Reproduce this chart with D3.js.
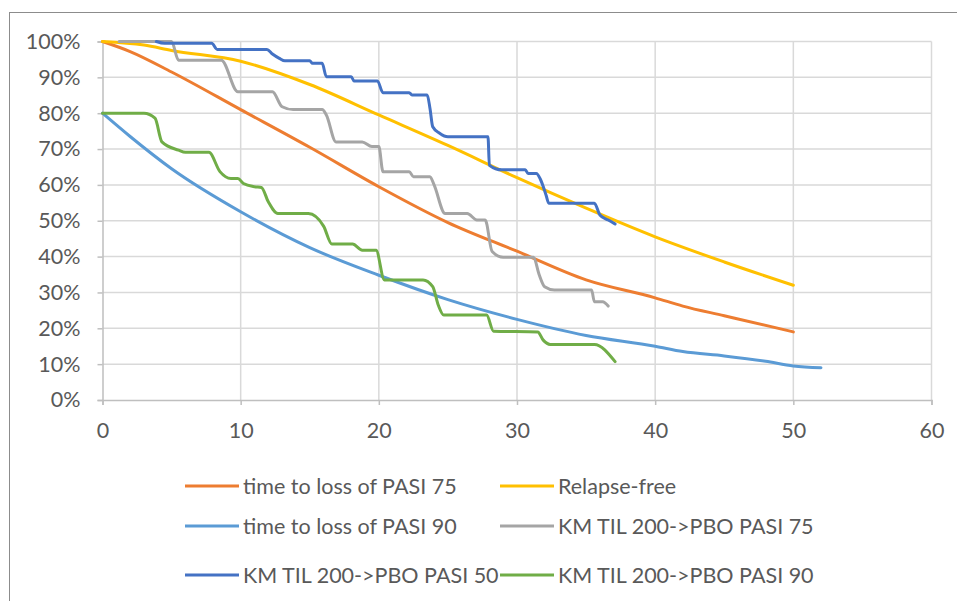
<!DOCTYPE html>
<html>
<head>
<meta charset="utf-8">
<script src="https://cdn.jsdelivr.net/npm/d3@7"></script>
<style>
  body { margin: 0; background: #fff; }
  svg { display: block; font-family: Lato, "Liberation Sans", Arial, sans-serif; }
</style>
</head>
<body>
<div id="chart"></div>
<script>
// smooth model curves (months, survival fraction)
const pasi75X = [0, 2, 5, 10, 15, 20, 25, 30, 35, 40, 42, 45, 50];
const pasi75Y = [1.00, 0.972, 0.915, 0.81, 0.705, 0.595, 0.495, 0.415, 0.335, 0.285, 0.262, 0.235, 0.19];

const relapseX = [0, 3, 5, 10, 15, 20, 25, 30, 35, 40, 45, 50];
const relapseY = [1.00, 0.99, 0.975, 0.945, 0.88, 0.795, 0.71, 0.62, 0.535, 0.455, 0.385, 0.32];

const pasi90X = [0, 2, 5, 10, 15, 20, 25, 30, 35, 40, 42, 45, 48, 50, 52];
const pasi90Y = [0.80, 0.735, 0.645, 0.525, 0.425, 0.348, 0.28, 0.225, 0.18, 0.15, 0.135, 0.123, 0.108, 0.095, 0.09];

// Kaplan-Meier step data [month, fraction]
const kmPasi75 = [[1.2,1.00],[5.0,1.00],[5.5,0.948],[8.6,0.948],[9.8,0.86],[12.3,0.86],[13.0,0.818],[13.8,0.81],[15.9,0.81],
  [16.2,0.795],[16.9,0.72],[18.8,0.72],[19.5,0.707],[20.0,0.707],[20.3,0.637],[22.2,0.637],[22.5,0.623],[23.7,0.623],
  [24.0,0.60],[24.8,0.52],[26.4,0.52],[27.1,0.502],[27.7,0.502],[28.2,0.414],[29.0,0.398],[31.2,0.398],[31.6,0.35],
  [32.0,0.316],[32.7,0.307],[35.4,0.307],[35.6,0.274],[36.2,0.274],[36.6,0.262]];

const kmPasi50 = [[3.9,1.00],[4.5,0.995],[7.9,0.995],[8.3,0.978],[11.9,0.978],[12.3,0.965],[12.8,0.953],[13.2,0.946],
  [15.0,0.946],[15.2,0.939],[15.9,0.939],[16.2,0.902],[18.0,0.902],[18.2,0.89],[19.9,0.89],[20.3,0.857],[22.2,0.857],
  [22.4,0.851],[23.5,0.851],[23.7,0.814],[23.9,0.762],[24.4,0.744],[25.0,0.734],[27.9,0.734],[28.0,0.655],[28.9,0.642],
  [30.6,0.642],[30.8,0.632],[31.4,0.632],[31.7,0.615],[32.1,0.572],[32.3,0.549],[35.6,0.549],[36.0,0.516],[36.6,0.502],[37.1,0.491]];

const kmPasi90 = [[0,0.80],[3.0,0.80],[3.8,0.786],[4.3,0.72],[5.5,0.697],[6.0,0.691],[7.7,0.691],[8.5,0.637],[9.3,0.618],
  [9.8,0.618],[10.2,0.604],[11.0,0.595],[11.5,0.593],[12.0,0.553],[12.7,0.52],[14.9,0.52],[16.0,0.485],[16.6,0.435],
  [18.1,0.435],[18.8,0.418],[19.8,0.418],[20.4,0.335],[23.2,0.335],[23.9,0.316],[24.3,0.265],[24.7,0.237],[27.8,0.237],
  [28.3,0.192],[31.5,0.19],[31.9,0.167],[32.4,0.155],[35.6,0.155],[37.1,0.107]];

const xTicks = [0, 10, 20, 30, 40, 50, 60];
const yTicks = [0, 0.1, 0.2, 0.3, 0.4, 0.5, 0.6, 0.7, 0.8, 0.9, 1.0];

const zip = (xs, ys) => xs.map((x, i) => [x, ys[i]]);

const series = [
  { name: "time to loss of PASI 75", color: "#ED7D31", pts: zip(pasi75X, pasi75Y) },
  { name: "Relapse-free", color: "#FFC000", pts: zip(relapseX, relapseY) },
  { name: "time to loss of PASI 90", color: "#5B9BD5", pts: zip(pasi90X, pasi90Y) },
  { name: "KM TIL 200->PBO PASI 75", color: "#A5A5A5", pts: kmPasi75 },
  { name: "KM TIL 200->PBO PASI 50", color: "#4472C4", pts: kmPasi50 },
  { name: "KM TIL 200->PBO PASI 90", color: "#70AD47", pts: kmPasi90 }
];

const W = 957, H = 601;
const svg = d3.select("#chart").append("svg").attr("width", W).attr("height", H);

// chart area outline
svg.append("rect")
  .attr("x", 9.5).attr("y", 12.5).attr("width", 1000).attr("height", 1000)
  .attr("fill", "none").attr("stroke", "#8c8c8c").attr("stroke-width", 1);

const x = d3.scaleLinear().domain([0, 60]).range([102.5, 931.5]);
const y = d3.scaleLinear().domain([0, 1]).range([400, 41.5]);

// gridlines
svg.append("g").selectAll("line.h").data(yTicks.slice(1)).join("line")
  .attr("x1", x(0)).attr("x2", x(60))
  .attr("y1", d => y(d)).attr("y2", d => y(d))
  .attr("stroke", "#d9d9d9").attr("stroke-width", 1.5);
svg.append("g").selectAll("line.v").data(xTicks.slice(1)).join("line")
  .attr("x1", d => x(d)).attr("x2", d => x(d))
  .attr("y1", y(0)).attr("y2", y(1))
  .attr("stroke", "#d9d9d9").attr("stroke-width", 1.5);

// axes
const yAxis = svg.append("g")
  .attr("transform", `translate(${x(0)},0)`)
  .call(d3.axisLeft(y).tickValues(yTicks).tickFormat(d3.format(".0%")).tickSize(5).tickPadding(17));
const xAxis = svg.append("g")
  .attr("transform", `translate(0,${y(0)})`)
  .call(d3.axisBottom(x).tickValues(xTicks).tickSize(5).tickPadding(22));

[yAxis, xAxis].forEach(g => {
  g.select(".domain").attr("stroke", "#bfbfbf").attr("stroke-width", 1.5);
  g.selectAll(".tick line").attr("stroke", "#bfbfbf").attr("stroke-width", 1.5);
  g.selectAll(".tick text").attr("fill", "#595959").style("font-size", "21.5px")
    .style("font-family", "Lato, 'Liberation Sans', Arial, sans-serif");
});
xAxis.selectAll(".tick text").attr("dy", "0.5em");

// series lines
const line = d3.line()
  .x(d => x(d[0]))
  .y(d => y(d[1]))
  .curve(d3.curveMonotoneX);

svg.append("g").selectAll("path").data(series).join("path")
  .attr("d", d => line(d.pts))
  .attr("fill", "none")
  .attr("stroke", d => d.color)
  .attr("stroke-width", 3)
  .attr("stroke-linejoin", "round")
  .attr("stroke-linecap", "round");

// legend
const colX = [185, 500];
const rowY = [486, 526, 575];
const legend = svg.append("g").selectAll("g").data(series).join("g")
  .attr("transform", (d, i) => `translate(${colX[i % 2]},${rowY[Math.floor(i / 2)]})`);
legend.append("line")
  .attr("x1", 0).attr("x2", 54).attr("y1", 0).attr("y2", 0)
  .attr("stroke", d => d.color).attr("stroke-width", 3);
legend.append("text")
  .attr("x", 58).attr("y", 0).attr("dy", "0.35em")
  .attr("fill", "#595959").style("font-size", "21.5px")
  .text(d => d.name);
</script>
</body>
</html>
